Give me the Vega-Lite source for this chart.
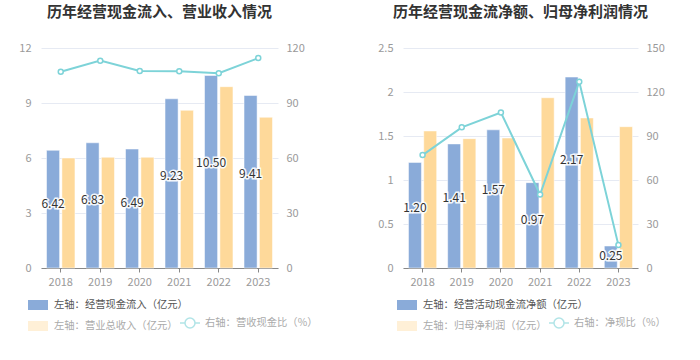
{
  "$schema": "https://vega.github.io/schema/vega-lite/v6.json",
  "padding": {"left": 18, "top": 5, "right": 0, "bottom": 0},
  "background": "white",
  "config": {
    "font": "Noto Sans CJK SC",
    "view": {"stroke": null},
    "axis": {"labelColor": "#9a9a9a", "labelFontSize": 11, "title": null},
    "legend": {"labelLimit": 400},
    "concat": {"spacing": 125}
  },
  "datasets": {
    "a": [
      {"year": "2018", "series": "左轴：经营现金流入（亿元）", "value": 6.42},
      {"year": "2019", "series": "左轴：经营现金流入（亿元）", "value": 6.83},
      {"year": "2020", "series": "左轴：经营现金流入（亿元）", "value": 6.49},
      {"year": "2021", "series": "左轴：经营现金流入（亿元）", "value": 9.23},
      {"year": "2022", "series": "左轴：经营现金流入（亿元）", "value": 10.50},
      {"year": "2023", "series": "左轴：经营现金流入（亿元）", "value": 9.41},
      {"year": "2018", "series": "左轴：营业总收入（亿元）", "value": 6.00},
      {"year": "2019", "series": "左轴：营业总收入（亿元）", "value": 6.04},
      {"year": "2020", "series": "左轴：营业总收入（亿元）", "value": 6.04},
      {"year": "2021", "series": "左轴：营业总收入（亿元）", "value": 8.60},
      {"year": "2022", "series": "左轴：营业总收入（亿元）", "value": 9.89},
      {"year": "2023", "series": "左轴：营业总收入（亿元）", "value": 8.22}
    ],
    "aLine": [
      {"year": "2018", "ratio": 107.0},
      {"year": "2019", "ratio": 113.1},
      {"year": "2020", "ratio": 107.5},
      {"year": "2021", "ratio": 107.3},
      {"year": "2022", "ratio": 106.2},
      {"year": "2023", "ratio": 114.5}
    ],
    "b": [
      {"year": "2018", "series": "左轴：经营活动现金流净额（亿元）", "value": 1.20},
      {"year": "2019", "series": "左轴：经营活动现金流净额（亿元）", "value": 1.41},
      {"year": "2020", "series": "左轴：经营活动现金流净额（亿元）", "value": 1.57},
      {"year": "2021", "series": "左轴：经营活动现金流净额（亿元）", "value": 0.97},
      {"year": "2022", "series": "左轴：经营活动现金流净额（亿元）", "value": 2.17},
      {"year": "2023", "series": "左轴：经营活动现金流净额（亿元）", "value": 0.25},
      {"year": "2018", "series": "左轴：归母净利润（亿元）", "value": 1.557},
      {"year": "2019", "series": "左轴：归母净利润（亿元）", "value": 1.47},
      {"year": "2020", "series": "左轴：归母净利润（亿元）", "value": 1.477},
      {"year": "2021", "series": "左轴：归母净利润（亿元）", "value": 1.935},
      {"year": "2022", "series": "左轴：归母净利润（亿元）", "value": 1.705},
      {"year": "2023", "series": "左轴：归母净利润（亿元）", "value": 1.606}
    ],
    "bLine": [
      {"year": "2018", "ratio": 77.0},
      {"year": "2019", "ratio": 95.9},
      {"year": "2020", "ratio": 106.0},
      {"year": "2021", "ratio": 50.1},
      {"year": "2022", "ratio": 127.0},
      {"year": "2023", "ratio": 15.6}
    ]
  },
  "hconcat": [
    {
      "width": 237,
      "height": 220,
      "title": {"text": "历年经营现金流入、营业收入情况", "fontSize": 15, "fontWeight": "bold", "color": "#333333", "anchor": "middle", "offset": 22},
      "layer": [
        {
          "data": {"name": "a"},
          "mark": {"type": "bar", "stroke": "white", "strokeWidth": 1, "strokeOpacity": 0.5},
          "encoding": {
            "x": {"field": "year", "type": "nominal", "scale": {"paddingInner": 0.28, "paddingOuter": 0.14},
              "axis": {"labelAngle": 0, "domainColor": "#888888", "tickColor": "#888888", "tickSize": 4, "labelPadding": 4, "grid": false}},
            "xOffset": {"field": "series", "type": "nominal", "scale": {"domain": ["左轴：经营现金流入（亿元）", "左轴：营业总收入（亿元）"], "paddingInner": 0.15}},
            "y": {"field": "value", "type": "quantitative", "scale": {"domain": [0, 12]},
              "axis": {"values": [0, 3, 6, 9, 12], "domain": false, "ticks": false, "gridColor": "#e6eaf3", "labelPadding": 10}},
            "fill": {"field": "series", "type": "nominal",
              "scale": {"domain": ["左轴：经营现金流入（亿元）", "左轴：营业总收入（亿元）"], "range": ["#8aabd9", "#fed99a"]},
              "legend": {"orient": "none", "legendX": -13, "legendY": 247, "direction": "vertical", "title": null,
                "symbolType": "M-1,-0.5h2v1h-2z", "symbolSize": 400, "symbolStrokeWidth": 0, "labelFontSize": 10.3, "labelOffset": 6, "rowPadding": 5,
                "labelColor": {"expr": "datum.value === '左轴：经营现金流入（亿元）' ? '#555555' : '#aaaaaa'"},
                "symbolOpacity": {"expr": "datum.value === '左轴：经营现金流入（亿元）' ? 1 : 0.4"}}}
          }
        },
        {
          "data": {"name": "aLine"},
          "mark": {"type": "line", "strokeWidth": 2},
          "encoding": {
            "x": {"field": "year", "type": "nominal"},
            "y": {"field": "ratio", "type": "quantitative", "scale": {"domain": [0, 120]},
              "axis": {"orient": "right", "values": [0, 30, 60, 90, 120], "domain": false, "ticks": false, "grid": false, "labelPadding": 8}},
            "stroke": {"datum": "右轴：营收现金比（%）", "scale": {"range": ["#7dd3d8"]},
              "legend": {"orient": "none", "legendX": 138, "legendY": 264, "title": null,
                "symbolType": "M-1,0H-0.5M0.5,0H1M0.5,0A0.5,0.5 0 1,1 -0.5,0A0.5,0.5 0 1,1 0.5,0",
                "symbolSize": 400, "symbolStrokeWidth": 1.5, "symbolFillColor": "white", "symbolOpacity": 0.6,
                "labelFontSize": 10.3, "labelColor": "#aaaaaa", "labelOffset": 4}}
          }
        },
        {
          "data": {"name": "aLine"},
          "mark": {"type": "point", "filled": true, "fill": "white", "stroke": "#7dd3d8", "strokeWidth": 1.5, "size": 25, "opacity": 1},
          "encoding": {
            "x": {"field": "year", "type": "nominal"},
            "y": {"field": "ratio", "type": "quantitative", "scale": {"domain": [0, 120]}, "axis": null}
          }
        },
        {
          "data": {"name": "a"},
          "transform": [{"filter": "datum.series === '左轴：经营现金流入（亿元）'"}],
          "mark": {"type": "text", "fontSize": 12, "stroke": "white", "strokeWidth": 3, "strokeOpacity": 0.9, "fill": "white"},
          "encoding": {
            "x": {"field": "year", "type": "nominal"},
            "xOffset": {"field": "series", "type": "nominal", "scale": {"domain": ["左轴：经营现金流入（亿元）", "左轴：营业总收入（亿元）"]}},
            "y": {"field": "value", "type": "quantitative", "stack": "zero", "bandPosition": 0.5, "axis": null},
            "text": {"field": "value", "type": "quantitative", "format": ".2f"}
          }
        },
        {
          "data": {"name": "a"},
          "transform": [{"filter": "datum.series === '左轴：经营现金流入（亿元）'"}],
          "mark": {"type": "text", "fontSize": 12, "fill": "#333333"},
          "encoding": {
            "x": {"field": "year", "type": "nominal"},
            "xOffset": {"field": "series", "type": "nominal", "scale": {"domain": ["左轴：经营现金流入（亿元）", "左轴：营业总收入（亿元）"]}},
            "y": {"field": "value", "type": "quantitative", "stack": "zero", "bandPosition": 0.5, "axis": null},
            "text": {"field": "value", "type": "quantitative", "format": ".2f"}
          }
        }
      ],
      "resolve": {"scale": {"y": "independent"}}
    },
    {
      "width": 235,
      "height": 220,
      "title": {"text": "历年经营现金流净额、归母净利润情况", "fontSize": 15, "fontWeight": "bold", "color": "#333333", "anchor": "middle", "offset": 22},
      "layer": [
        {
          "data": {"name": "b"},
          "mark": {"type": "bar", "stroke": "white", "strokeWidth": 1, "strokeOpacity": 0.5},
          "encoding": {
            "x": {"field": "year", "type": "nominal", "scale": {"paddingInner": 0.28, "paddingOuter": 0.14},
              "axis": {"labelAngle": 0, "domainColor": "#888888", "tickColor": "#888888", "tickSize": 4, "labelPadding": 4, "grid": false}},
            "xOffset": {"field": "series", "type": "nominal", "scale": {"domain": ["左轴：经营活动现金流净额（亿元）", "左轴：归母净利润（亿元）"], "paddingInner": 0.15}},
            "y": {"field": "value", "type": "quantitative", "scale": {"domain": [0, 2.5]},
              "axis": {"values": [0, 0.5, 1, 1.5, 2, 2.5], "format": "~g", "domain": false, "ticks": false, "gridColor": "#e6eaf3", "labelPadding": 10}},
            "fill": {"field": "series", "type": "nominal",
              "scale": {"domain": ["左轴：经营活动现金流净额（亿元）", "左轴：归母净利润（亿元）"], "range": ["#8aabd9", "#fed99a"]},
              "legend": {"orient": "none", "legendX": -6, "legendY": 247, "direction": "vertical", "title": null,
                "symbolType": "M-1,-0.5h2v1h-2z", "symbolSize": 400, "symbolStrokeWidth": 0, "labelFontSize": 10.3, "labelOffset": 6, "rowPadding": 5,
                "labelColor": {"expr": "datum.value === '左轴：经营活动现金流净额（亿元）' ? '#555555' : '#aaaaaa'"},
                "symbolOpacity": {"expr": "datum.value === '左轴：经营活动现金流净额（亿元）' ? 1 : 0.4"}}}
          }
        },
        {
          "data": {"name": "bLine"},
          "mark": {"type": "line", "strokeWidth": 2},
          "encoding": {
            "x": {"field": "year", "type": "nominal"},
            "y": {"field": "ratio", "type": "quantitative", "scale": {"domain": [0, 150]},
              "axis": {"orient": "right", "values": [0, 30, 60, 90, 120, 150], "domain": false, "ticks": false, "grid": false, "labelPadding": 8}},
            "stroke": {"datum": "右轴：净现比（%）", "scale": {"range": ["#7dd3d8"]},
              "legend": {"orient": "none", "legendX": 145, "legendY": 264, "title": null,
                "symbolType": "M-1,0H-0.5M0.5,0H1M0.5,0A0.5,0.5 0 1,1 -0.5,0A0.5,0.5 0 1,1 0.5,0",
                "symbolSize": 400, "symbolStrokeWidth": 1.5, "symbolFillColor": "white", "symbolOpacity": 0.6,
                "labelFontSize": 10.3, "labelColor": "#aaaaaa", "labelOffset": 4}}
          }
        },
        {
          "data": {"name": "bLine"},
          "mark": {"type": "point", "filled": true, "fill": "white", "stroke": "#7dd3d8", "strokeWidth": 1.5, "size": 25, "opacity": 1},
          "encoding": {
            "x": {"field": "year", "type": "nominal"},
            "y": {"field": "ratio", "type": "quantitative", "scale": {"domain": [0, 150]}, "axis": null}
          }
        },
        {
          "data": {"name": "b"},
          "transform": [{"filter": "datum.series === '左轴：经营活动现金流净额（亿元）'"}],
          "mark": {"type": "text", "fontSize": 12, "stroke": "white", "strokeWidth": 3, "strokeOpacity": 0.9, "fill": "white"},
          "encoding": {
            "x": {"field": "year", "type": "nominal"},
            "xOffset": {"field": "series", "type": "nominal", "scale": {"domain": ["左轴：经营活动现金流净额（亿元）", "左轴：归母净利润（亿元）"]}},
            "y": {"field": "value", "type": "quantitative", "stack": "zero", "bandPosition": 0.5, "axis": null},
            "text": {"field": "value", "type": "quantitative", "format": ".2f"}
          }
        },
        {
          "data": {"name": "b"},
          "transform": [{"filter": "datum.series === '左轴：经营活动现金流净额（亿元）'"}],
          "mark": {"type": "text", "fontSize": 12, "fill": "#333333"},
          "encoding": {
            "x": {"field": "year", "type": "nominal"},
            "xOffset": {"field": "series", "type": "nominal", "scale": {"domain": ["左轴：经营活动现金流净额（亿元）", "左轴：归母净利润（亿元）"]}},
            "y": {"field": "value", "type": "quantitative", "stack": "zero", "bandPosition": 0.5, "axis": null},
            "text": {"field": "value", "type": "quantitative", "format": ".2f"}
          }
        }
      ],
      "resolve": {"scale": {"y": "independent"}}
    }
  ],
  "resolve": {"scale": {"fill": "independent", "stroke": "independent", "x": "independent", "xOffset": "independent", "y": "independent"}, "legend": {"fill": "independent", "stroke": "independent"}},
  "bounds": "flush"
}
